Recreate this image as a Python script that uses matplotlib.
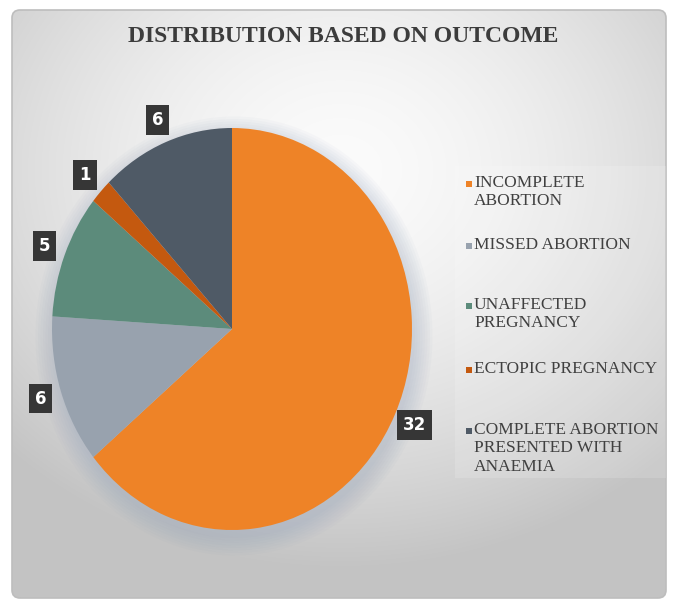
import numpy as np
import matplotlib.pyplot as plt
from matplotlib.patches import FancyBboxPatch, Rectangle, Ellipse

outcomes = ["INCOMPLETE\nABORTION", "MISSED ABORTION", "UNAFFECTED\nPREGNANCY",
            "ECTOPIC PREGNANCY", "COMPLETE ABORTION\nPRESENTED WITH\nANAEMIA"]
cases = [32, 6, 5, 1, 6]
colors = ["#EE8327", "#98A2AE", "#5C8B7B", "#C4590F", "#4F5A66"]

W, H = 678, 608
fig = plt.figure(figsize=(6.78, 6.08), dpi=100)

# background: rounded panel with a soft radial grey gradient
bg = fig.add_axes([0, 0, 1, 1])
yy, xx = np.mgrid[0:H, 0:W]
d = np.hypot(xx - 340, (yy - 170) / 0.85)
shade = 0.985 - 0.22 * np.clip(d / 470, 0, 1) ** 1.6
img = np.dstack([shade] * 3)
im = bg.imshow(img, extent=(0, W, H, 0), zorder=0)
frame = FancyBboxPatch((12, 10), 654, 588, boxstyle="round,pad=0,rounding_size=8",
                       fc="none", ec="#bdbdbd", lw=1.2, zorder=1)
bg.add_patch(frame)
im.set_clip_path(frame)
bg.set_xlim(0, W)
bg.set_ylim(H, 0)
bg.set_aspect("auto")
bg.axis("off")

# soft shadow under the pie
for k in range(8):
    bg.add_patch(Ellipse((234, 336), 2 * (181 + k * 2.5), 2 * (202 + k * 2.5),
                         fc="#8a9ab5", ec="none", alpha=0.045, zorder=1))

# legend panel
bg.add_patch(Rectangle((455, 166), 211, 312, fc="white", ec="none", alpha=0.15, zorder=1))

bg.text(343, 36, "DISTRIBUTION BASED ON OUTCOME", ha="center", va="center",
        family="Liberation Serif", fontweight="bold", fontsize=17, color="#3c3c3c")

# pie
pax = fig.add_axes([(232 - 180) / W, (H - 329 - 201) / H, 360 / W, 402 / H])
wedges, _ = pax.pie(cases, colors=colors, startangle=90, counterclock=False,
                    wedgeprops=dict(linewidth=0))
pax.set_aspect("auto")
pax.set_xlim(-1, 1)
pax.set_ylim(-1, 1)
pax.axis("off")

for w, v in zip(wedges, cases):
    ang = np.deg2rad((w.theta1 + w.theta2) / 2)
    pax.text(1.12 * np.cos(ang), 1.12 * np.sin(ang), str(v), ha="center", va="center",
             color="white", fontweight="bold", fontsize=12, clip_on=False,
             bbox=dict(boxstyle="square,pad=0.35", fc="#363636", ec="none"))

# legend entries
legend_y = [178, 240, 300, 364, 425]
for lab, col, y in zip(outcomes, colors, legend_y):
    bg.add_patch(Rectangle((466, y + 3), 6, 6, fc=col, ec="none", zorder=3))
    bg.text(474, y - 3, lab, ha="left", va="top", family="Liberation Serif",
            fontsize=12.5, color="#404040", linespacing=1.2, zorder=3)

fig.savefig("out.png", dpi=100)
